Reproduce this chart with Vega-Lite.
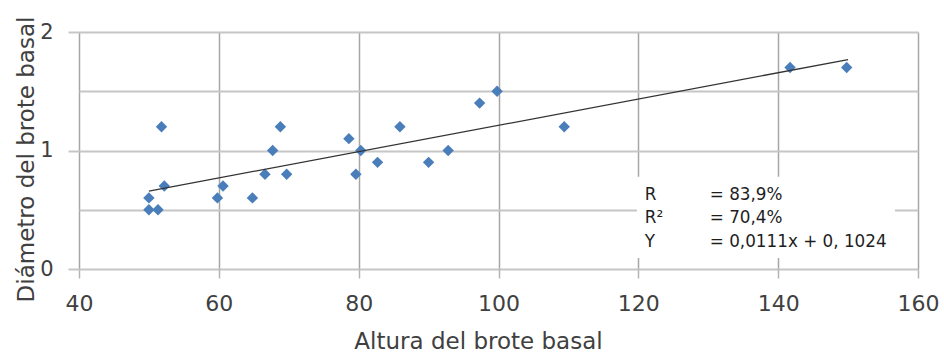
{
  "$schema": "https://vega.github.io/schema/vega-lite/v6.json",
  "width": 839,
  "height": 237,
  "autosize": "none",
  "padding": {"left": 79, "top": 32, "right": 26, "bottom": 85},
  "background": "white",
  "config": {
    "view": {"stroke": null},
    "font": "DejaVu Sans"
  },
  "data": {
    "values": [
      {"Altura": 50.0, "Diametro": 0.6},
      {"Altura": 50.0, "Diametro": 0.5},
      {"Altura": 51.3, "Diametro": 0.5},
      {"Altura": 51.8, "Diametro": 1.2},
      {"Altura": 52.2, "Diametro": 0.7},
      {"Altura": 59.8, "Diametro": 0.6},
      {"Altura": 60.6, "Diametro": 0.7},
      {"Altura": 64.8, "Diametro": 0.6},
      {"Altura": 66.6, "Diametro": 0.8},
      {"Altura": 67.7, "Diametro": 1.0},
      {"Altura": 68.8, "Diametro": 1.2},
      {"Altura": 69.7, "Diametro": 0.8},
      {"Altura": 78.6, "Diametro": 1.1},
      {"Altura": 79.6, "Diametro": 0.8},
      {"Altura": 80.3, "Diametro": 1.0},
      {"Altura": 82.7, "Diametro": 0.9},
      {"Altura": 85.9, "Diametro": 1.2},
      {"Altura": 90.0, "Diametro": 0.9},
      {"Altura": 92.8, "Diametro": 1.0},
      {"Altura": 97.3, "Diametro": 1.4},
      {"Altura": 99.8, "Diametro": 1.5},
      {"Altura": 109.4, "Diametro": 1.2},
      {"Altura": 141.7, "Diametro": 1.7},
      {"Altura": 149.8, "Diametro": 1.7}
    ]
  },
  "layer": [
    {
      "mark": {"type": "point", "shape": "diamond", "filled": true, "opacity": 1, "color": "#4a7ebb", "size": 130},
      "encoding": {
        "x": {
          "field": "Altura",
          "type": "quantitative",
          "scale": {"domain": [40, 160], "nice": false, "zero": false},
          "axis": {
            "title": "Altura del brote basal",
            "values": [40, 60, 80, 100, 120, 140, 160],
            "domain": false,
            "grid": true,
            "gridColor": "#a6a6a6",
            "gridWidth": 1.5,
            "ticks": true,
            "tickColor": "#b4b4b4",
            "tickSize": 9,
            "tickWidth": 1.5,
            "labelFlush": false,
            "labelFont": "DejaVu Sans",
            "labelFontSize": 22,
            "labelColor": "#404040",
            "labelPadding": 15,
            "titleFont": "DejaVu Sans",
            "titleFontSize": 23,
            "titleFontWeight": "normal",
            "titleColor": "#404040",
            "titleAlign": "center",
            "titleBaseline": "alphabetic",
            "titleX": 399,
            "titleY": 79
          }
        },
        "y": {
          "field": "Diametro",
          "type": "quantitative",
          "scale": {"domain": [0, 2], "nice": false},
          "axis": {
            "title": "Diámetro del brote basal",
            "values": [0, 0.5, 1, 1.5, 2],
            "labelExpr": "datum.value % 1 === 0 ? format(datum.value, 'd') : ''",
            "domain": false,
            "grid": true,
            "gridColor": "#c6c6c6",
            "gridWidth": 2,
            "ticks": true,
            "tickColor": "#c6c6c6",
            "tickSize": 11,
            "tickWidth": 2,
            "tickOpacity": {"condition": {"test": "datum.value % 1 === 0", "value": 1}, "value": 0},
            "labelFlush": false,
            "labelFont": "DejaVu Sans",
            "labelFontSize": 21,
            "labelColor": "#404040",
            "labelPadding": 15,
            "titleFont": "DejaVu Sans",
            "titleFontSize": 23,
            "titleFontWeight": "normal",
            "titleColor": "#404040",
            "titleAlign": "center",
            "titleBaseline": "alphabetic",
            "titleAngle": -90,
            "titleX": -46,
            "titleY": 127
          }
        }
      }
    },
    {
      "data": {
        "values": [
          {"Altura": 50, "Diametro": 0.6574},
          {"Altura": 150, "Diametro": 1.7674}
        ]
      },
      "mark": {"type": "line", "color": "#333333", "strokeWidth": 1.3},
      "encoding": {
        "x": {"field": "Altura", "type": "quantitative"},
        "y": {"field": "Diametro", "type": "quantitative"}
      }
    },
    {
      "data": {"values": [{}]},
      "mark": {"type": "rect", "fill": "white", "stroke": null},
      "encoding": {
        "x": {"datum": 119.8, "type": "quantitative"},
        "x2": {"datum": 156.7},
        "y": {"datum": 0.779, "type": "quantitative"},
        "y2": {"datum": 0.093}
      }
    },
    {
      "data": {"values": [{}]},
      "mark": {
        "type": "text",
        "text": ["R", "R²", "Y"],
        "align": "left",
        "baseline": "alphabetic",
        "lineHeight": 23.3,
        "font": "DejaVu Sans",
        "fontSize": 16.8,
        "color": "#1e1e1e"
      },
      "encoding": {
        "x": {"datum": 120.93, "type": "quantitative"},
        "y": {"datum": 0.582, "type": "quantitative"}
      }
    },
    {
      "data": {"values": [{}]},
      "mark": {
        "type": "text",
        "text": ["= 83,9%", "= 70,4%", "= 0,0111x + 0, 1024"],
        "align": "left",
        "baseline": "alphabetic",
        "lineHeight": 23.3,
        "font": "DejaVu Sans",
        "fontSize": 16.8,
        "color": "#1e1e1e"
      },
      "encoding": {
        "x": {"datum": 130.22, "type": "quantitative"},
        "y": {"datum": 0.582, "type": "quantitative"}
      }
    }
  ]
}
